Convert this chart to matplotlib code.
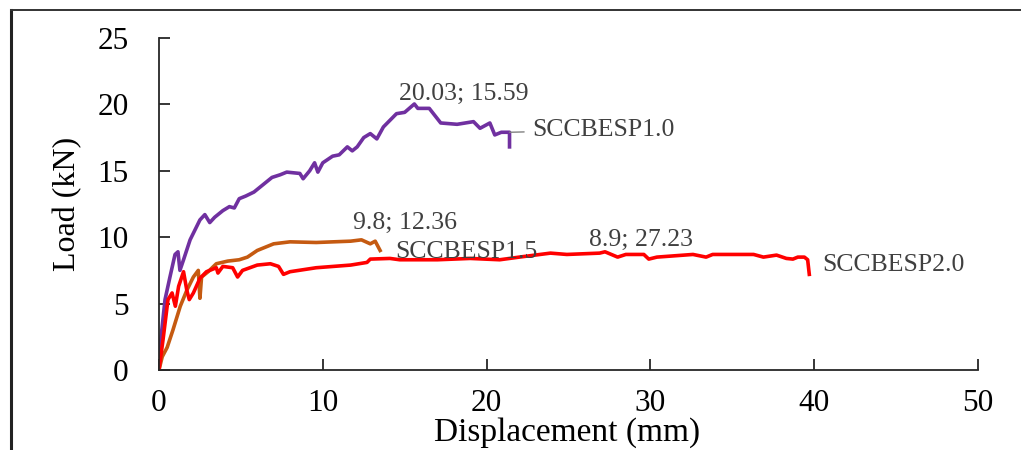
import matplotlib
matplotlib.use("Agg")
from matplotlib import pyplot as plt
from matplotlib.lines import Line2D

plt.rcParams['font.family'] = ['Liberation Serif', 'DejaVu Serif']

# SCCBESP1.0 (purple)
disp_10 = [0, 0.06, 0.37, 0.67, 0.98, 1.16, 1.28, 1.5, 1.9, 2.5, 2.8, 3.1, 3.4, 3.9, 4.3, 4.6,
           4.9, 5.3, 5.8, 6.4, 6.9, 7.4, 7.8, 8.6, 8.8, 9.2, 9.5, 9.7, 10.0, 10.6, 11.0, 11.5,
           11.8, 12.1, 12.5, 12.9, 13.3, 13.7, 14.5, 15.0, 15.59, 15.8, 16.5, 17.2, 18.2,
           19.2, 19.6, 20.2, 20.5, 20.9, 21.4, 21.4]
load_10 = [0, 1.7, 5.3, 7.0, 8.7, 8.9, 7.5, 8.3, 9.8, 11.3, 11.7, 11.1, 11.5, 12.0, 12.3, 12.2,
           12.9, 13.1, 13.4, 14.0, 14.5, 14.7, 14.9, 14.8, 14.4, 15.0, 15.6, 14.9, 15.6, 16.1,
           16.2, 16.8, 16.5, 16.8, 17.5, 17.8, 17.4, 18.3, 19.3, 19.4, 20.03, 19.7, 19.7,
           18.6, 18.5, 18.7, 18.2, 18.6, 17.7, 17.9, 17.9, 16.8]

# SCCBESP1.5 (orange)
disp_15 = [0, 0.2, 0.5, 0.85, 1.3, 1.7, 2.1, 2.4, 2.5, 2.6, 3.0, 3.5, 4.2, 4.9, 5.4, 6.0,
           7.0, 8.0, 9.6, 11.7, 12.36, 12.9, 13.2, 13.5]
load_15 = [0, 1.0, 1.7, 3.0, 4.8, 6.0, 7.0, 7.5, 5.4, 7.0, 7.4, 8.0, 8.2, 8.3, 8.5, 9.0,
           9.5, 9.65, 9.6, 9.7, 9.8, 9.5, 9.7, 9.0]

# SCCBESP2.0 (red)
disp_20 = [0, 0.25, 0.55, 0.8, 1.0, 1.2, 1.5, 1.7, 1.85, 2.1, 2.5, 2.9, 3.5, 3.6, 3.9, 4.5,
           4.8, 5.1, 6.0, 6.8, 7.3, 7.6, 8.0, 9.6, 11.7, 12.7, 12.9, 14.1, 14.7, 17.0, 19.0,
           20.8, 22.0, 23.9, 24.9, 26.9, 27.23, 28.0, 28.5, 29.6, 29.9, 30.4, 32.6, 33.4,
           33.8, 36.3, 36.9, 37.7, 38.3, 38.7, 39.0, 39.4, 39.6, 39.7]
load_20 = [0, 2.3, 5.3, 5.8, 4.8, 6.3, 7.4, 6.0, 5.3, 5.8, 6.9, 7.4, 7.7, 7.3, 7.8, 7.7,
           7.0, 7.5, 7.9, 8.0, 7.8, 7.2, 7.4, 7.7, 7.9, 8.1, 8.35, 8.4, 8.3, 8.3, 8.4,
           8.3, 8.5, 8.8, 8.7, 8.8, 8.9, 8.5, 8.7, 8.7, 8.35, 8.5, 8.7, 8.5,
           8.7, 8.7, 8.5, 8.65, 8.4, 8.35, 8.5, 8.5, 8.3, 7.2]

names = ["SCCBESP1.0", "SCCBESP1.5", "SCCBESP2.0"]
peaks = ["20.03; 15.59", "9.8; 12.36", "8.9; 27.23"]

c_purple = '#7030A0'
c_orange = '#C55A11'
c_red = '#FF0000'
txt = '#404040'

fig = plt.figure(figsize=(10.21, 4.5), dpi=100)
ax = fig.add_axes([0.1557, 0.1778, 0.8022, 0.7378])

ax.plot(disp_10, load_10, color=c_purple, lw=2.6, solid_joinstyle='round')
ax.plot(disp_15, load_15, color=c_orange, lw=2.6, solid_joinstyle='round')
ax.plot(disp_20, load_20, color=c_red, lw=2.6, solid_joinstyle='round')

ax.set_xlim(0, 50)
ax.set_ylim(0, 25)
ax.set_xticks(range(0, 51, 10))
ax.set_yticks(range(0, 26, 5))
for s in ['top', 'right']:
    ax.spines[s].set_visible(False)
for s in ['left', 'bottom']:
    ax.spines[s].set_linewidth(1.3)
    ax.spines[s].set_color('#262626')
ax.tick_params(direction='in', length=8, width=1.3, color='#262626', labelsize=22.5)
ax.tick_params(axis='x', pad=14)
ax.tick_params(axis='y', pad=22)

ax.set_xlabel("Displacement (mm)", fontsize=24)
ax.set_ylabel("Load (kN)", fontsize=23)
ax.xaxis.set_label_coords(0.498, -0.188)
ax.xaxis.label.set_va('center')
ax.yaxis.set_label_coords(-0.111, 0.5)
ax.yaxis.label.set_va('center')

# labels and peak values
fs = 18.5
ax.annotate(names[0], xy=(disp_10[-2], load_10[-2]), xytext=(22.8, 18.07),
            color=txt, fontsize=fs, va='center', ha='left',
            arrowprops=dict(arrowstyle='-', color='#808080', lw=1, shrinkA=4, shrinkB=0))
ax.text(14.4, 8.9, names[1], color=txt, fontsize=fs, va='center', ha='left')
ax.text(40.5, 7.9, names[2], color=txt, fontsize=fs, va='center', ha='left')
ax.text(18.6, 20.8, peaks[0], color=txt, fontsize=fs, va='center', ha='center')
ax.text(15.0, 11.07, peaks[1], color=txt, fontsize=fs, va='center', ha='center')
ax.text(29.4, 9.8, peaks[2], color=txt, fontsize=fs, va='center', ha='center')

# outer frame (partly cut off)
fig.add_artist(Line2D([11 / 1021, 11 / 1021], [-0.1, 1 - 10 / 450],
                      transform=fig.transFigure, color='#222222', lw=2.2))
fig.add_artist(Line2D([11 / 1021, 1.1], [1 - 10 / 450, 1 - 10 / 450],
                      transform=fig.transFigure, color='#333333', lw=1.4))

fig.savefig("out.png", dpi=100)
